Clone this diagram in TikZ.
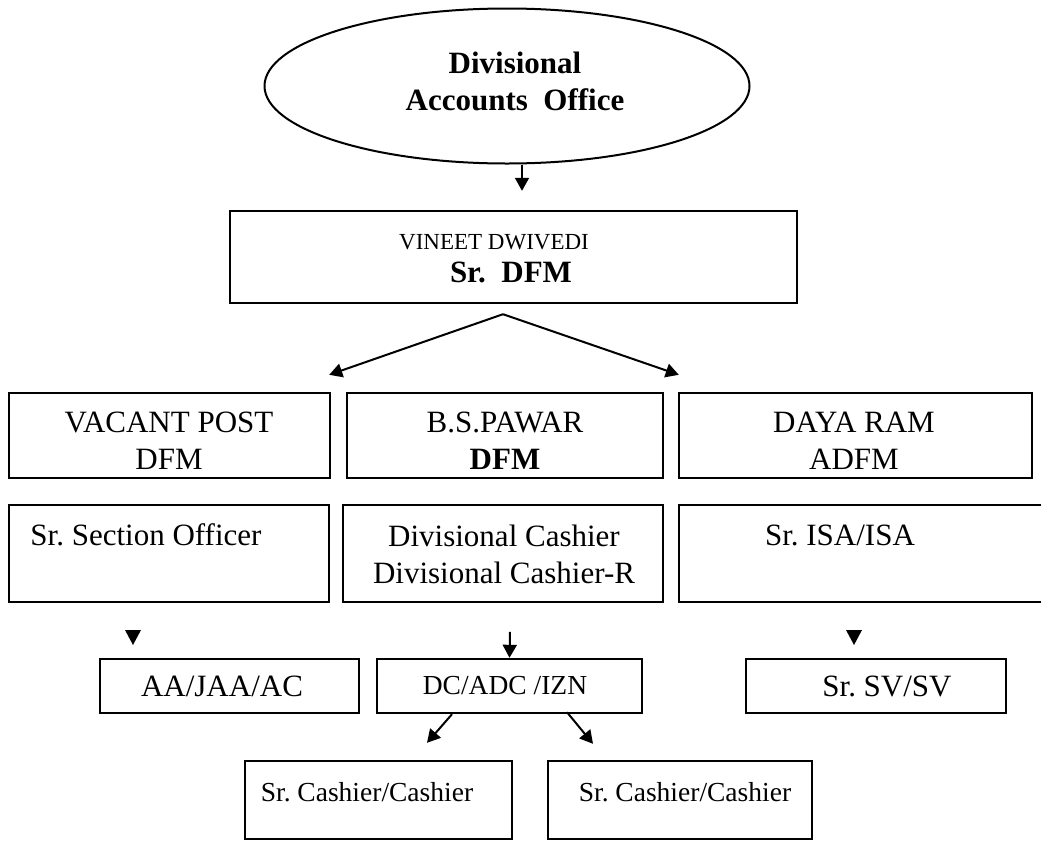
\documentclass[tikz,border=0pt]{standalone}
\usepackage{fontspec}
\setmainfont{Liberation Serif}
\usetikzlibrary{shapes.geometric,arrows.meta}
\frenchspacing
\begin{document}
\begin{tikzpicture}[x=1pt,y=-1pt,
  box/.style={draw, line width=2.4pt, inner sep=0pt},
  oval/.style={draw, ellipse, line width=2pt, inner sep=0pt},
  txt/.style={inner sep=0pt, align=center, font=\fontsize{31}{37}\selectfont},
  txtsm/.style={inner sep=0pt, align=center, font=\fontsize{27.5}{33}\selectfont},
  arr/.style={line width=2pt, -{Triangle[length=13pt,width=14pt]}},
  head/.style={fill=black}]
\clip (0,0) rectangle (1041,841);
\fill[white] (0,0) rectangle (1041,841);

% top ellipse
\node[oval, minimum width=485pt, minimum height=155pt] (dao) at (507,86) {};
\node[txt, font=\fontsize{31}{37}\selectfont\bfseries] (daot) at (515,81) {Divisional\\Accounts\ \ Office};

% Sr DFM
\node[box, minimum width=567pt, minimum height=92pt] (srdfm) at (513.5,257) {};
\node[inner sep=0pt, font=\fontsize{23}{28}\selectfont] (vdt) at (494,242) {VINEET DWIVEDI};
\node[inner sep=0pt, font=\fontsize{31}{37}\selectfont\bfseries] (sdt) at (511,272) {Sr.\ \ DFM};

% row 1
\node[box, minimum width=321pt, minimum height=85pt] (vacant) at (169.5,435.5) {};
\node[txt] (vacantt) at (169,440.5) {VACANT POST\\DFM};
\node[box, minimum width=316pt, minimum height=85pt] (pawar) at (505,435.5) {};
\node[txt] (pawart) at (505,440.5) {B.S.PAWAR\\\textbf{DFM}};
\node[box, minimum width=353pt, minimum height=85pt] (daya) at (855.5,435.5) {};
\node[txt] (dayat) at (854,440.5) {DAYA RAM\\ADFM};

% row 2
\node[box, minimum width=320pt, minimum height=97pt] (sso) at (169,553.5) {};
\node[txt] (ssot) at (146,535) {Sr. Section Officer};
\node[box, minimum width=320pt, minimum height=97pt] (cash) at (503,553.5) {};
\node[txt] (casht) at (504,554) {Divisional Cashier\\Divisional Cashier-R};
\node[box, minimum width=381pt, minimum height=97pt] (isa) at (869.5,553.5) {};
\node[txt] (isat) at (840,535) {Sr. ISA/ISA};

% row 3
\node[box, minimum width=259pt, minimum height=54pt] (aa) at (229.5,686) {};
\node[txt] (aat) at (222,686) {AA/JAA/AC};
\node[box, minimum width=265pt, minimum height=54pt] (dc) at (509.5,686) {};
\node[txtsm] (dct) at (505,686) {DC/ADC /IZN};
\node[box, minimum width=260pt, minimum height=54pt] (sv) at (876,686) {};
\node[txt] (svt) at (887,686) {Sr. SV/SV};

% row 4
\node[box, minimum width=267pt, minimum height=78pt] (sc1) at (378.5,800) {};
\node[txtsm] (sc1t) at (367,792) {Sr. Cashier/Cashier};
\node[box, minimum width=264pt, minimum height=78pt] (sc2) at (680,800) {};
\node[txtsm] (sc2t) at (685,792) {Sr. Cashier/Cashier};

% connectors
\draw[arr] ([xshift=15pt]dao.south) -- ([xshift=8.5pt,yshift=19pt]srdfm.north);
\draw[arr] ([xshift=-10.5pt,yshift=-10pt]srdfm.south) -- ([xshift=-2pt,yshift=17pt]vacant.north east);
\draw[arr] ([xshift=-10.5pt,yshift=-10pt]srdfm.south) -- ([xshift=1pt,yshift=17pt]daya.north west);
\draw[arr] ([xshift=0.5pt,yshift=26pt]dc.north) -- (dc.north);
\draw[arr] ([xshift=-57.5pt]dc.south) -- ([xshift=48.5pt,yshift=17pt]sc1.north);
\draw[arr] ([xshift=57.5pt,yshift=2pt]dc.south) -- ([xshift=-87pt,yshift=16pt]sc2.north);

% lone arrow heads
\fill[head] (125,630) -- (141,630) -- (133,645) -- cycle;
\fill[head] (846,630) -- (862,630) -- (854,645) -- cycle;
\end{tikzpicture}
\end{document}
